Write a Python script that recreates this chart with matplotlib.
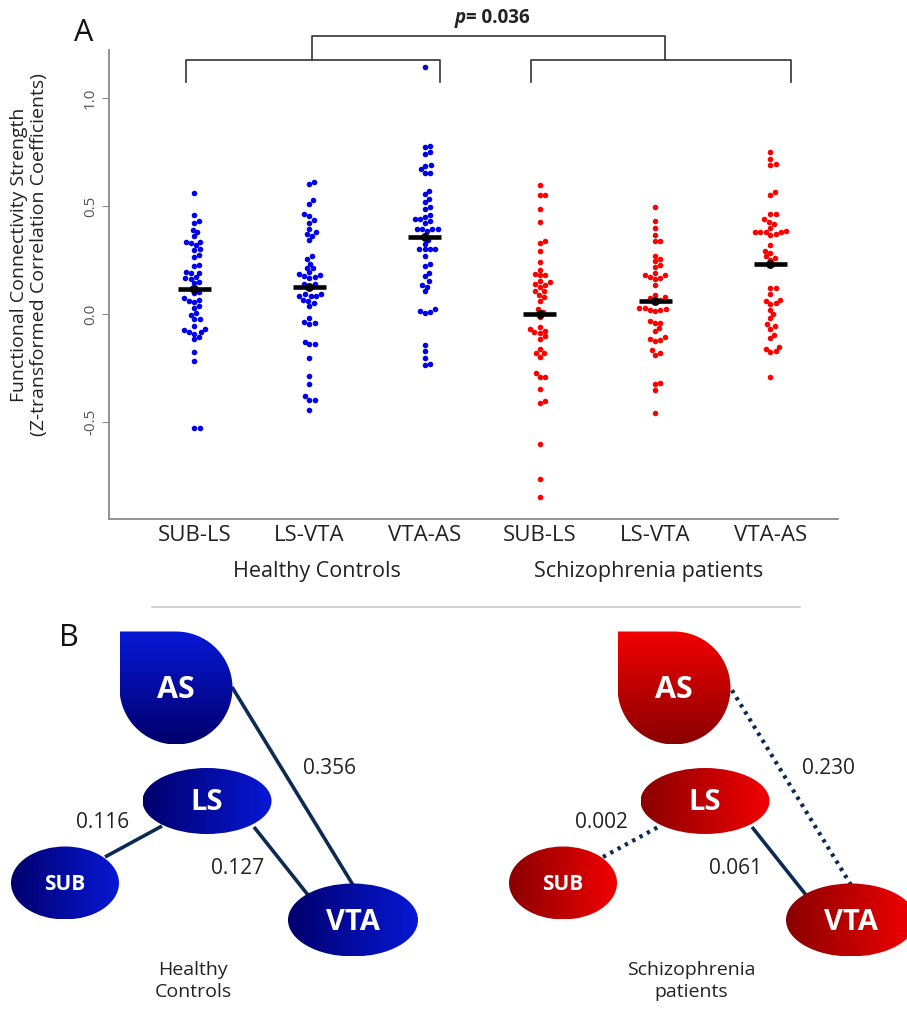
import numpy as np
import matplotlib.pyplot as plt
import matplotlib.transforms as mtransforms
from matplotlib.patches import Ellipse, PathPatch
from matplotlib.path import Path
from matplotlib.colors import LinearSegmentedColormap

plt.rcParams['font.family'] = ['Open Sans', 'DejaVu Sans']

pairs = ['SUB-LS', 'LS-VTA', 'VTA-AS']
groups = ['Healthy Controls', 'Schizophrenia patients']

hc_sub_ls = [0.56, 0.46, 0.42, 0.43, 0.39, 0.38, 0.36, 0.335, 0.32, 0.33, 0.332, 0.296, 0.30,
             0.265, 0.273, 0.22, 0.227, 0.196, 0.188, 0.191, 0.165, 0.173, 0.163, 0.15, 0.144,
             0.119, 0.103, 0.096, 0.06, 0.054, 0.065, 0.073, 0.036, 0.026, 0.003, -0.003,
             -0.023, -0.023, -0.054, -0.069, -0.082, -0.091, -0.082, -0.073, -0.116, -0.106,
             -0.177, -0.218, -0.529, -0.526]
hc_ls_vta = [0.60, 0.613, 0.508, 0.526, 0.455, 0.461, 0.421, 0.437, 0.394, 0.378, 0.369, 0.363,
             0.341, 0.27, 0.255, 0.233, 0.211, 0.214, 0.187, 0.177, 0.168, 0.171, 0.181, 0.193,
             0.14, 0.137, 0.131, 0.094, 0.091, 0.082, 0.085, 0.085, 0.066, 0.06, 0.051, 0.036,
             -0.036, -0.045, -0.017, -0.042, -0.128, -0.14, -0.137, -0.202, -0.289, -0.326,
             -0.381, -0.397, -0.397, -0.443]
hc_vta_as = [1.142, 0.772, 0.778, 0.741, 0.75, 0.685, 0.67, 0.691, 0.651, 0.651, 0.571, 0.556,
             0.534, 0.519, 0.497, 0.488, 0.46, 0.451, 0.423, 0.432, 0.441, 0.438, 0.395, 0.392,
             0.395, 0.386, 0.395, 0.364, 0.343, 0.324, 0.302, 0.299, 0.299, 0.302, 0.269, 0.222,
             0.231, 0.176, 0.188, 0.151, 0.136, 0.127, 0.105, 0.013, 0.003, 0.009, 0.022,
             -0.142, -0.173, -0.204, -0.235, -0.231]
sz_sub_ls = [0.599, 0.549, 0.549, 0.488, 0.426, 0.33, 0.336, 0.29, 0.241, 0.204, 0.185, 0.179,
             0.182, 0.154, 0.148, 0.136, 0.127, 0.139, 0.105, 0.089, 0.105, 0.077, 0.062, 0.022,
             0.009, -0.012, -0.059, -0.068, -0.083, -0.086, -0.077, -0.102, -0.114, -0.164,
             -0.182, -0.182, -0.198, -0.272, -0.29, -0.29, -0.349, -0.41, -0.401, -0.602,
             -0.765, -0.846]
sz_ls_vta = [0.497, 0.432, 0.398, 0.367, 0.339, 0.339, 0.269, 0.256, 0.244, 0.225, 0.216, 0.191,
             0.182, 0.179, 0.167, 0.161, 0.17, 0.136, 0.08, 0.087, 0.074, 0.065, 0.062, 0.028,
             0.028, 0.019, 0.015, 0.019, 0.022, -0.04, -0.043, -0.031, -0.065, -0.08, -0.108,
             -0.117, -0.124, -0.12, -0.167, -0.188, -0.182, -0.324, -0.318, -0.352, -0.46]
sz_vta_as = [0.752, 0.718, 0.69, 0.693, 0.551, 0.566, 0.464, 0.461, 0.427, 0.44, 0.418, 0.40,
             0.378, 0.378, 0.378, 0.366, 0.369, 0.381, 0.384, 0.319, 0.282, 0.292, 0.267, 0.251,
             0.261, 0.122, 0.122, 0.091, 0.06, 0.048, 0.051, 0.063, 0.02, 0.001, -0.02, -0.048,
             -0.054, -0.069, -0.097, -0.113, -0.162, -0.175, -0.171, -0.153, -0.292]

means_hc = [0.116, 0.127, 0.356]
means_sz = [0.002, 0.061, 0.230]
styles_hc = ['-', '-', '-']
styles_sz = [':', '-', ':']
p_value = 0.036

W, H = 907, 1011
fig = plt.figure(figsize=(W / 100, H / 100), dpi=100)

# ---------------- panel A ----------------
ax = fig.add_axes([109 / W, 1 - 519 / H, (838 - 109) / W, (519 - 50) / H])
ax.set_zorder(2)
ax.set_facecolor('none')
xlim = (-0.74, 5.588)
ylim = (-0.949, 1.222)
ax.set_xlim(xlim)
ax.set_ylim(ylim)
sx = (838 - 109) / (xlim[1] - xlim[0])
sy = (519 - 50) / (ylim[1] - ylim[0])


def swarm(vals, d=5.4):
    ys = np.asarray(vals) * sy
    xs = np.zeros(len(ys))
    placed = []
    for i in np.argsort(ys, kind='stable'):
        y = ys[i]
        near = [(xs[j], ys[j]) for j in placed if abs(ys[j] - y) < d]
        cands = [0.0]
        for px, py in near:
            dx = np.sqrt(d * d - (py - y) ** 2)
            cands += [px + dx, px - dx]
        cands.sort(key=abs)
        for c in cands:
            if all((c - px) ** 2 + (y - py) ** 2 >= d * d - 1e-6 for px, py in near):
                xs[i] = c
                break
        placed.append(i)
    return xs / sx


columns = [hc_sub_ls, hc_ls_vta, hc_vta_as, sz_sub_ls, sz_ls_vta, sz_vta_as]
colors = ['#0000ee'] * 3 + ['#ff0000'] * 3
means = means_hc + means_sz
for k, vals in enumerate(columns):
    ax.scatter(k + swarm(vals), vals, s=16, color=colors[k], linewidths=0, zorder=3)
    ax.hlines(means[k], k - 0.143, k + 0.143, color='black', lw=3.3, zorder=4)
    ax.scatter([k], [means[k]], s=28, color='black', zorder=4)

for side in ['top', 'right']:
    ax.spines[side].set_visible(False)
for side in ['left', 'bottom']:
    ax.spines[side].set_color('#8a8a8a')
    ax.spines[side].set_linewidth(1.3)

ax.set_yticks([-0.5, 0.0, 0.5, 1.0])
ax.set_yticklabels(['-0.5', '0.0', '0.5', '1.0'], rotation=90, va='center',
                   fontsize=11, color='#555555')
ax.tick_params(axis='y', length=5, color='#8a8a8a', pad=3)
ax.set_xticks(range(6))
ax.set_xticklabels(pairs * 2, fontsize=16, color='#222222')
ax.tick_params(axis='x', length=0, pad=4)

trans = mtransforms.blended_transform_factory(ax.transData, ax.transAxes)
ax.text(1.065, -0.111, groups[0], transform=trans, ha='center', va='center',
        fontsize=15.5, color='#222222')
ax.text(3.947, -0.111, groups[1], transform=trans, ha='center', va='center',
        fontsize=15.5, color='#222222')

# significance bracket
bk = dict(color='#333333', lw=1.2, clip_on=False)
ax.plot([-0.075, -0.075, 2.135, 2.135], [1.074, 1.176, 1.176, 1.074], **bk)
ax.plot([2.923, 2.923, 5.18, 5.18], [1.074, 1.176, 1.176, 1.074], **bk)
ax.plot([1.024, 1.024, 4.085, 4.085], [1.176, 1.287, 1.287, 1.176], **bk)
ax.text(2.36, 1.37, 'p', fontsize=13.5, fontweight='bold', style='italic',
        ha='right', va='center', color='#222222', clip_on=False)
ax.text(2.36, 1.37, '= %.3f' % p_value, fontsize=13.5, fontweight='bold',
        ha='left', va='center', color='#222222', clip_on=False)

fig.text(84 / W, 1 - 33 / H, 'A', fontsize=22, ha='center', va='center', color='#111111')
fig.text(29 / W, 1 - 255 / H,
         'Functional Connectivity Strength\n(Z-transformed Correlation Coefficients)',
         rotation=90, ha='center', va='center', fontsize=14, linespacing=1.15,
         color='#222222')

# ---------------- panel B ----------------
axb = fig.add_axes([0, 0, 1, 1])
axb.set_zorder(1)
axb.set_xlim(0, W)
axb.set_ylim(H, 0)
axb.axis('off')

axb.plot([152, 800], [607, 607], color='#c8c8c8', lw=1.2)
axb.text(69, 638, 'B', fontsize=22, ha='center', va='center', color='#111111')

blue = LinearSegmentedColormap.from_list('blue', ['#00006c', '#0818d6'])
red = LinearSegmentedColormap.from_list('red', ['#8a0000', '#f20000'])
grad = np.linspace(0, 1, 256)

# layout of the diagram (healthy controls; patients shifted right)
ellipses = {'LS': (207, 801, 129, 66, 21), 'SUB': (65, 883, 108, 73, 15),
            'VTA': (353, 920, 130, 73, 21)}
as_center, as_r = (176, 688), 56.5
edge_ends = [((105, 857), (162, 826)), ((254, 827), (308, 895)), ((353, 885), (232, 687))]
edge_labels = [(103, 823), (238, 868), (330, 769)]
shift = 498


def fill_gradient(patch, cmap, vertical):
    axb.add_patch(patch)
    x0, y0, x1, y1 = patch.get_path().transformed(patch.get_patch_transform()).get_extents().extents
    img = grad[::-1, None] if vertical else grad[None, :]
    im = axb.imshow(img, cmap=cmap, extent=(x0, x1, y1, y0), origin='upper',
                    aspect='auto', zorder=3)
    im.set_clip_path(patch)


def draw_network(dx, cmap, values, styles, caption):
    for (a, b), v, ls, (lx, ly) in zip(edge_ends, values, styles, edge_labels):
        if ls == ':':
            axb.plot([a[0] + dx, b[0] + dx], [a[1], b[1]], color='#0d2a52', lw=3,
                     linestyle=(0, (0.8, 1.2)), zorder=2)
        else:
            axb.plot([a[0] + dx, b[0] + dx], [a[1], b[1]], color='#0d2a52', lw=2.6,
                     solid_capstyle='butt', zorder=2)
        axb.text(lx + dx, ly, '%.3f' % v, fontsize=15, ha='center', va='center',
                 color='#222222')

    cx, cy = as_center[0] + dx, as_center[1]
    t = np.linspace(0, 1.5 * np.pi, 80)
    verts = [(cx - as_r, cy - as_r)] + list(zip(cx + as_r * np.sin(t), cy - as_r * np.cos(t)))
    verts.append((cx - as_r, cy - as_r))
    codes = [Path.MOVETO] + [Path.LINETO] * (len(verts) - 2) + [Path.CLOSEPOLY]
    fill_gradient(PathPatch(Path(verts, codes), facecolor='none', edgecolor='none'),
                  cmap, True)
    axb.text(cx, cy + 2, 'AS', fontsize=22, fontweight='bold', color='white',
             ha='center', va='center', zorder=5)

    for name, (ex, ey, ew, eh, fs) in ellipses.items():
        fill_gradient(Ellipse((ex + dx, ey), ew, eh, facecolor='none', edgecolor='none'),
                      cmap, False)
        axb.text(ex + dx, ey + 2, name, fontsize=fs, fontweight='bold', color='white',
                 ha='center', va='center', zorder=5)

    axb.text(as_center[0] + dx + 17, 981, caption, fontsize=14, ha='center', va='center',
             linespacing=1.35, color='#222222')


draw_network(0, blue, means_hc, styles_hc, 'Healthy\nControls')
draw_network(shift, red, means_sz, styles_sz, 'Schizophrenia\npatients')
axb.set_xlim(0, W)
axb.set_ylim(H, 0)

fig.savefig('out.png', dpi=100)
